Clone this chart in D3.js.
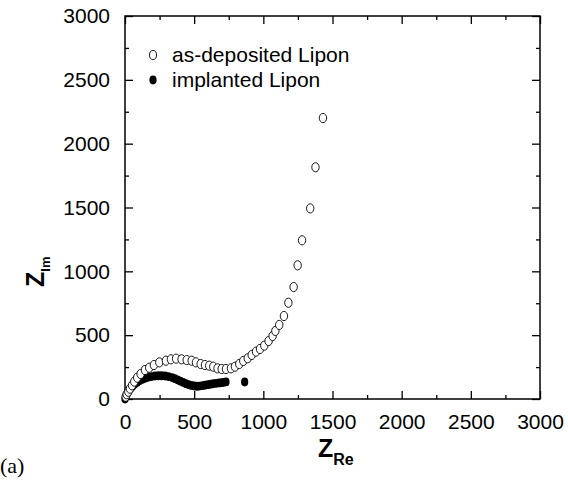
<!DOCTYPE html>
<html><head><meta charset="utf-8">
<script src="https://cdn.jsdelivr.net/npm/d3@7"></script>
<style>body{margin:0;background:#fff}svg{display:block}</style>
</head><body>
<svg id="c" width="568" height="484"></svg>
<script>
const xTicks = [0,500,1000,1500,2000,2500,3000];
const yTicks = [0,500,1000,1500,2000,2500,3000];
const seriesNames = ["as-deposited Lipon","implanted Lipon"];
const depRe = [5,12,24,36,51,67,88,113,144,175,209,248,296,332,369,409,446,482,513,547,578,609,638,669,699,730,766,795,826,855,887,916,947,976,1007,1038,1067,1087,1115,1149,1181,1219,1248,1280,1339,1377,1431];
const depIm = [18,37,57,81,107,136,167,196,227,245,266,287,300,311,316,311,305,300,287,274,266,261,253,240,235,235,240,253,274,298,319,345,371,392,418,454,493,533,580,650,754,877,1047,1243,1493,1815,2201];
const impRe = [0,5,10,18,28,40,55,70,88,105,125,145,165,190,215,240,265,290,315,340,360,380,400,420,440,460,480,500,520,540,560,580,600,620,640,660,680,700,715,730,865];
const impIm = [0,15,30,48,65,82,100,115,130,142,153,162,170,176,180,182,182,180,176,168,160,150,140,130,120,112,106,102,100,101,104,108,112,116,120,123,126,129,131,134,133];

const svg = d3.select("#c");
const L=125,R=540,T=16,B=399;
const x = d3.scaleLinear().domain([0,3000]).range([L,R]);
const y = d3.scaleLinear().domain([0,3000]).range([B,T]);
const minor = d3.range(0,3001,250);
const font = "Liberation Sans, Arial, sans-serif";
const fs = 21;

function drawAxis(orient, pos){
  let a;
  if(orient==="bottom") a=d3.axisTop(x);
  if(orient==="top") a=d3.axisBottom(x);
  if(orient==="left") a=d3.axisRight(y);
  if(orient==="right") a=d3.axisLeft(y);
  const g = svg.append("g").attr("transform",pos).call(a.tickValues(minor).tickSize(8).tickFormat(""));
  g.select(".domain").remove();
  g.selectAll(".tick line").attr("stroke","#000").attr("stroke-width",1.3)
   .each(function(d){ if(d%500!==0){ const l=d3.select(this);
      if(l.attr("y2")!==null && +l.attr("y2")!==0) l.attr("y2", +l.attr("y2")>0?4:-4);
      if(l.attr("x2")!==null && +l.attr("x2")!==0) l.attr("x2", +l.attr("x2")>0?4:-4);} });
}
drawAxis("bottom",`translate(0,${B})`);
drawAxis("top",`translate(0,${T})`);
drawAxis("left",`translate(${L},0)`);
drawAxis("right",`translate(${R},0)`);
svg.append("rect").attr("x",L).attr("y",T).attr("width",R-L).attr("height",B-T)
  .attr("fill","none").attr("stroke","#000").attr("stroke-width",1.5);

const fmt = d3.format("d");
const bl = svg.append("g").attr("transform",`translate(0,${B})`)
  .call(d3.axisBottom(x).tickValues(xTicks).tickFormat(fmt).tickSize(0).tickPadding(15));
bl.select(".domain").remove();
bl.selectAll("text").attr("font-family",font).attr("font-size",fs).attr("fill","#000");
const ll = svg.append("g").attr("transform",`translate(${L},0)`)
  .call(d3.axisLeft(y).tickValues(yTicks).tickFormat(fmt).tickSize(0).tickPadding(15));
ll.select(".domain").remove();
ll.selectAll("text").attr("font-family",font).attr("font-size",fs).attr("fill","#000");

const dep = depRe.map((d,i)=>({re:d,im:depIm[i]}));
const imp = impRe.map((d,i)=>({re:d,im:impIm[i]}));
svg.append("g").selectAll("ellipse").data(imp).join("ellipse")
  .attr("cx",d=>x(d.re)).attr("cy",d=>y(d.im)).attr("rx",3.6).attr("ry",4.4).attr("fill","#000");
svg.append("g").selectAll("ellipse").data(dep).join("ellipse")
  .attr("cx",d=>x(d.re)).attr("cy",d=>y(d.im)).attr("rx",3.7).attr("ry",4.6)
  .attr("fill","#fff").attr("stroke","#000").attr("stroke-width",0.9);

const lg = svg.append("g");
lg.append("ellipse").attr("cx",153).attr("cy",55).attr("rx",3.5).attr("ry",4.5).attr("fill","#fff").attr("stroke","#000").attr("stroke-width",0.9);
lg.append("ellipse").attr("cx",153).attr("cy",80).attr("rx",3.6).attr("ry",4.4).attr("fill","#000");
lg.selectAll("text").data(seriesNames).join("text")
  .attr("x",172).attr("y",(d,i)=>62+i*25).attr("font-family",font).attr("font-size",fs).text(d=>d);

const xt = svg.append("text").attr("x",318).attr("y",457).attr("font-family",font).attr("font-weight","bold");
xt.append("tspan").attr("font-size",25).text("Z");
xt.append("tspan").attr("font-size",16).attr("dy",8).text("Re");
const yt = svg.append("text").attr("transform","translate(44,287) rotate(-90)").attr("font-family",font).attr("font-weight","bold");
yt.append("tspan").attr("font-size",25).text("Z");
yt.append("tspan").attr("font-size",13).attr("dy",6).text("Im");

svg.append("text").attr("x",0).attr("y",473).attr("font-family","Liberation Serif, Times New Roman, serif").attr("font-size",22).text("(a)");
</script>
</body></html>
